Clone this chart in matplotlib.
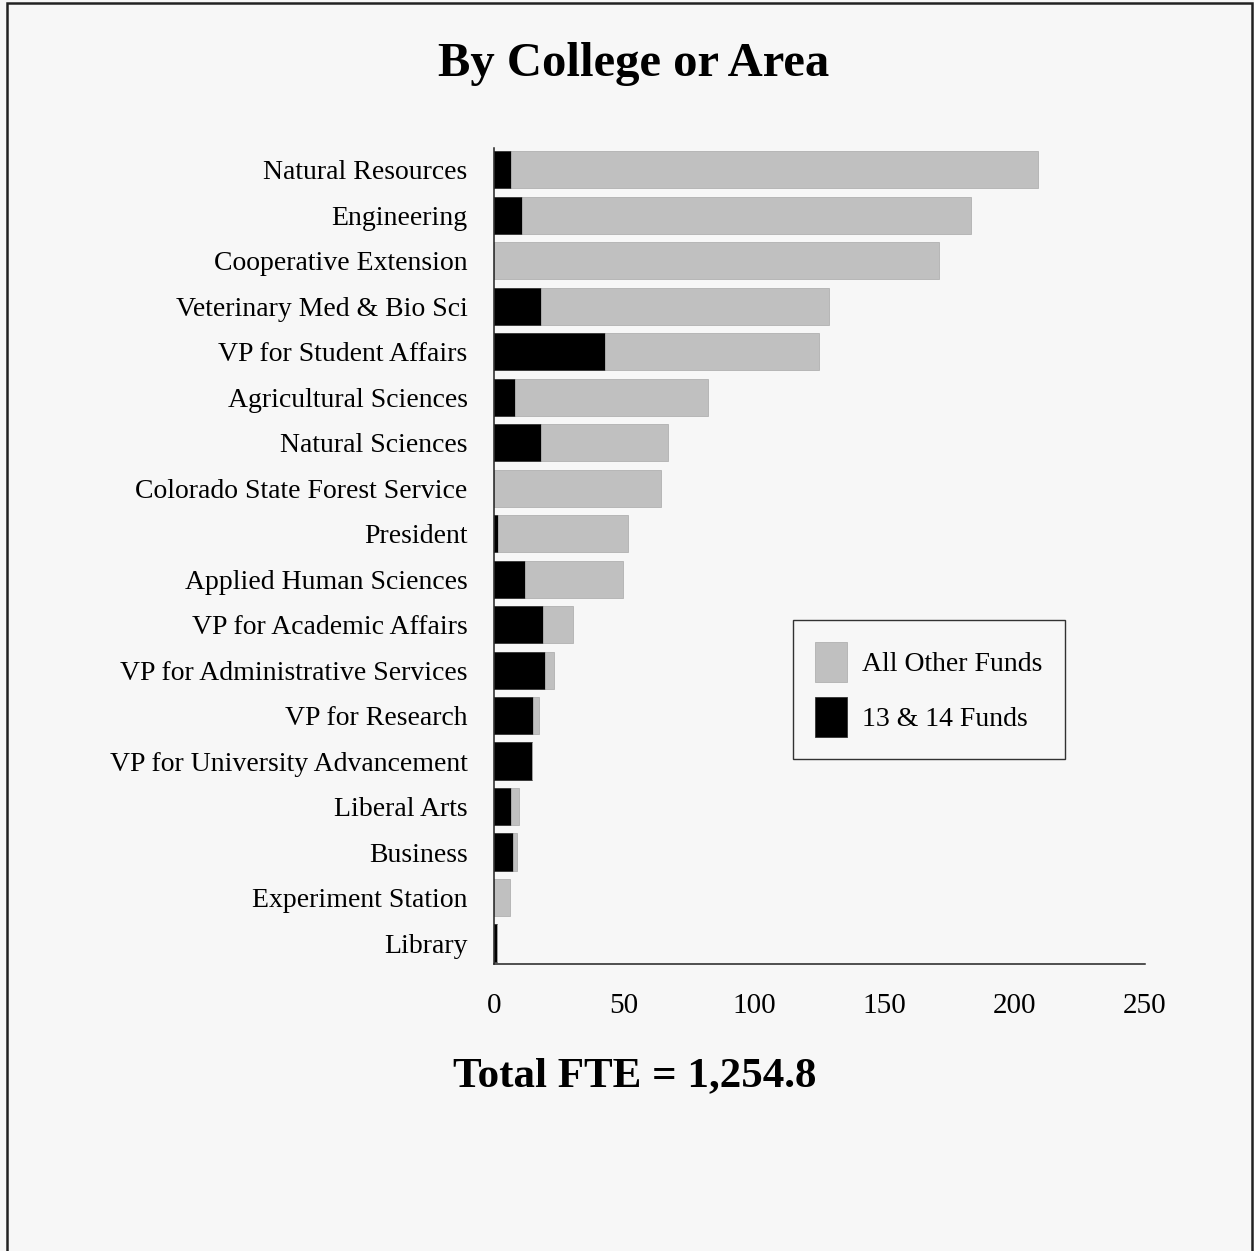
import matplotlib
matplotlib.use("Agg")
import matplotlib.pyplot as plt
from matplotlib.patches import Rectangle

# -----------------------------------
# Data (FTE by college or area)
# -----------------------------------

areas = [
    "Natural Resources", "Engineering", "Cooperative Extension",
    "Veterinary Med & Bio Sci", "VP for Student Affairs",
    "Agricultural Sciences", "Natural Sciences",
    "Colorado State Forest Service", "President", "Applied Human Sciences",
    "VP for Academic Affairs", "VP for Administrative Services",
    "VP for Research", "VP for University Advancement", "Liberal Arts",
    "Business", "Experiment Station", "Library",
]
funds_13_14 = [6.5, 10.8, 0.0, 18.0, 42.6, 8.0, 18.0, 0.0, 1.5, 11.9,
               18.8, 19.6, 15.0, 14.6, 6.5, 7.3, 0.0, 1.2]
other_funds = [202.5, 172.4, 170.9, 110.6, 82.2, 74.2, 48.8, 64.1, 50.0, 37.6,
               11.5, 3.4, 2.3, 0.0, 3.1, 1.5, 6.3, 0.0]
x_ticks = [0, 50, 100, 150, 200, 250]

title = "By College or Area"
footer = "Total FTE = 1,254.8"

bg = "#f7f7f7"
grey = "#c0c0c0"
serif = ["Liberation Serif", "DejaVu Serif"]

# -----------------------------------
# Figure
# -----------------------------------

fig = plt.figure(figsize=(12.54, 12.51), dpi=100, facecolor=bg)
fig.patches.append(Rectangle((7 / 1254, -0.01), 1245 / 1254, 1.0077,
                             transform=fig.transFigure, fill=False,
                             edgecolor="#222222", linewidth=1.8))

ax = fig.add_axes([494 / 1254, 1 - 964 / 1251, 651 / 1254, 816 / 1251])
ax.set_facecolor(bg)

pos = list(range(len(areas)))
ax.barh(pos, funds_13_14, height=0.82, color="black", edgecolor="#333333",
        linewidth=0.6, label="13 & 14 Funds")
ax.barh(pos, other_funds, left=funds_13_14, height=0.82, color=grey,
        edgecolor="#b0b0b0", linewidth=0.6, label="All Other Funds")

ax.set_xlim(0, 250)
ax.set_ylim(len(areas) - 1 + 0.46, -0.48)
ax.set_xticks(x_ticks)
ax.set_xticklabels([str(t) for t in x_ticks], family=serif, fontsize=21)
ax.set_yticks(pos)
ax.set_yticklabels(areas, family=serif, fontsize=20)
ax.tick_params(axis="y", length=0, pad=19)
ax.tick_params(axis="x", length=0, pad=21)

for s in ["top", "right"]:
    ax.spines[s].set_visible(False)
for s in ["left", "bottom"]:
    ax.spines[s].set_linewidth(1.1)
    ax.spines[s].set_color("#222222")

# legend: All Other Funds on top
h, l = ax.get_legend_handles_labels()
leg = ax.legend([h[1], h[0]], [l[1], l[0]], loc="upper left",
                bbox_to_anchor=(0.459, 0.4216), frameon=True, fancybox=False,
                prop={"family": serif, "size": 20}, handlelength=1.15,
                handleheight=1.82, handletextpad=0.54, labelspacing=0.54,
                borderpad=0.8, borderaxespad=0)
leg.get_frame().set_edgecolor("black")
leg.get_frame().set_facecolor(bg)
leg.get_frame().set_linewidth(1.0)

fig.text(634 / 1254, 1 - 64 / 1251, title, ha="center", va="center",
         family=serif, fontsize=35, fontweight="bold")
fig.text(635 / 1254, 1 - 1076 / 1251, footer, ha="center", va="center",
         family=serif, fontsize=31, fontweight="bold")

fig.savefig("out.png", dpi=100, facecolor=bg)
